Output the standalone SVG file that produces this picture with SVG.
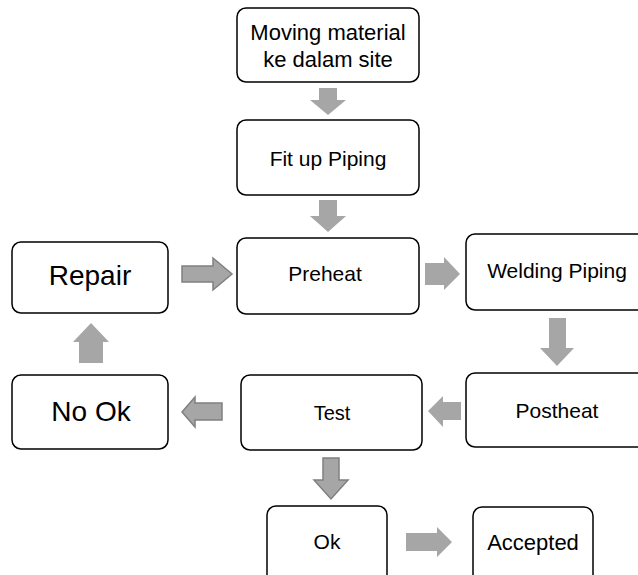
<svg xmlns="http://www.w3.org/2000/svg" width="638" height="575" viewBox="0 0 638 575">
<style>
.box{fill:#fff;stroke:#000;stroke-width:1.5}
.t{font-family:"Liberation Sans",Arial,sans-serif;fill:#000;text-anchor:middle}
.a{fill:#a6a6a6}
.ao{fill:#a6a6a6;stroke:#808080;stroke-width:1.5}
</style>
<rect width="638" height="575" fill="#fff"/>
<g id="connectors">
<polygon class="a" points="319,88 337,88 337,100 346,100 328,115 310,100 319,100"/>
<polygon class="a" points="319,200 337,200 337,216 346,216 328,232 310,216 319,216"/>
<polygon class="ao" points="182,266 213,266 213,258 232,274 213,290 213,282 182,282"/>
<polygon class="a" points="425,263 444,263 444,257 460,274 444,290 444,285 425,285"/>
<polygon class="a" points="549,318 566,318 566,348 574,348 557,366 540,348 549,348"/>
<polygon class="a" points="461,402 443,402 443,396 428,411 443,427 443,420 461,420"/>
<polygon class="ao" points="222,403 195,403 195,397 182,412 195,427 195,420 222,420"/>
<polygon class="a" points="79,363 103,363 103,342 109,342 91,323 73,342 79,342"/>
<polygon class="ao" points="323,458 339,458 339,480 348,480 331,499 314,480 323,480"/>
<polygon class="a" points="406,533 437,533 437,527 452,542 437,557 437,551 406,551"/>
</g>
<g id="moving">
<rect class="box" x="237" y="8" width="182" height="74" rx="9"/>
<text class="t" x="328" y="40" font-size="22">Moving material</text>
<text class="t" x="328" y="67" font-size="22">ke dalam site</text>
</g>
<g id="fitup">
<rect class="box" x="237" y="120" width="182" height="75" rx="9"/>
<text class="t" x="328" y="166" font-size="21">Fit up Piping</text>
</g>
<g id="repair">
<rect class="box" x="12" y="242" width="156" height="71" rx="9"/>
<text class="t" x="90" y="285" font-size="28">Repair</text>
</g>
<g id="preheat">
<rect class="box" x="237" y="238" width="182" height="76" rx="9"/>
<text class="t" x="325" y="281" font-size="21">Preheat</text>
</g>
<g id="welding">
<rect class="box" x="466" y="234" width="185" height="76" rx="9"/>
<text class="t" x="557" y="278" font-size="21">Welding Piping</text>
</g>
<g id="postheat">
<rect class="box" x="466" y="373" width="185" height="74" rx="9"/>
<text class="t" x="557" y="418" font-size="21">Postheat</text>
</g>
<g id="test">
<rect class="box" x="241" y="375" width="181" height="75" rx="9"/>
<text class="t" x="332" y="420" font-size="20">Test</text>
</g>
<g id="nook">
<rect class="box" x="12" y="375" width="156" height="74" rx="9"/>
<text class="t" x="91" y="421" font-size="28">No Ok</text>
</g>
<g id="ok">
<rect class="box" x="267" y="506" width="120" height="80" rx="9"/>
<text class="t" x="327" y="549" font-size="21">Ok</text>
</g>
<g id="accepted">
<rect class="box" x="473" y="507" width="120" height="80" rx="9"/>
<text class="t" x="533" y="550" font-size="22">Accepted</text>
</g>
</svg>
